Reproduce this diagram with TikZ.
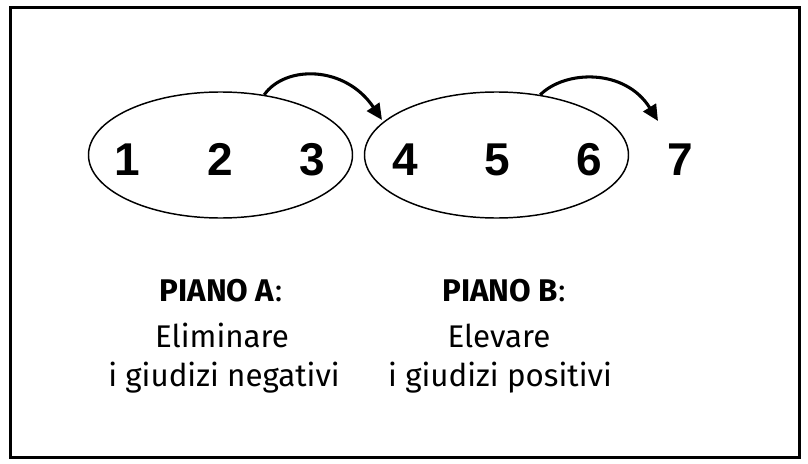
\documentclass[tikz,border=0pt]{standalone}
\usepackage{fontspec}
\setmainfont{Fira Sans}[Ligatures=NoCommon]
\newfontfamily\numfont{Liberation Sans}
\usetikzlibrary{arrows.meta,shapes.geometric}
\tikzset{
  px/.style={x=0.75pt,y=-0.75pt},
  frame/.style={line width=1.9pt},
  group/.style={draw,ellipse,line width=1.1pt,minimum width=198pt,minimum height=94.5pt,inner sep=0pt},
  digit/.style={font=\numfont\bfseries\fontsize{34.5pt}{36pt}\selectfont,anchor=base,inner sep=0pt},
  jump/.style={line width=2.3pt,-{Triangle[length=12pt,width=11pt]}},
  title/.style={font=\bfseries\fontsize{23.5pt}{25pt}\selectfont,anchor=base,inner sep=0pt},
  body/.style={font=\fontsize{23.5pt}{25pt}\selectfont,anchor=base,inner sep=0pt},
}
\begin{document}
\begin{tikzpicture}[px]
\useasboundingbox (0,0) rectangle (808,464);
\node[frame,draw,minimum width=592pt,minimum height=337.5pt,anchor=north west,inner sep=0pt] (box) at (9,6) {};
\node[group] (e1) at (220.5,155) {};
\node[group] (e2) at (496.5,155) {};
\node[digit] (d1) at (127,175) {1};
\node[digit] (d2) at (220,175) {2};
\node[digit] (d3) at (312,175) {3};
\node[digit] (d4) at (405,175) {4};
\node[digit] (d5) at (497,175) {5};
\node[digit] (d6) at (589,175) {6};
\node[digit] (d7) at (680,175) {7};
\coordinate (t1) at (382,120);
\coordinate (t2) at (658,121);
\draw[jump] (e1.54) .. controls (285,65) and (345,65) .. (t1);
\draw[jump] (e2.54) .. controls (565,70) and (625,68) .. (t2);
\node[title] (pa) at (221,301) {PIANO A\textmd{:}};
\node[body] (pa1) at (222,347) {Eliminare};
\node[body] (pa2) at (224,386) {i giudizi negativi};
\node[title] (pb) at (504,301) {PIANO B\textmd{:}};
\node[body] (pb1) at (499,347) {Elevare};
\node[body] (pb2) at (500,386) {i giudizi positivi};
\end{tikzpicture}
\end{document}
